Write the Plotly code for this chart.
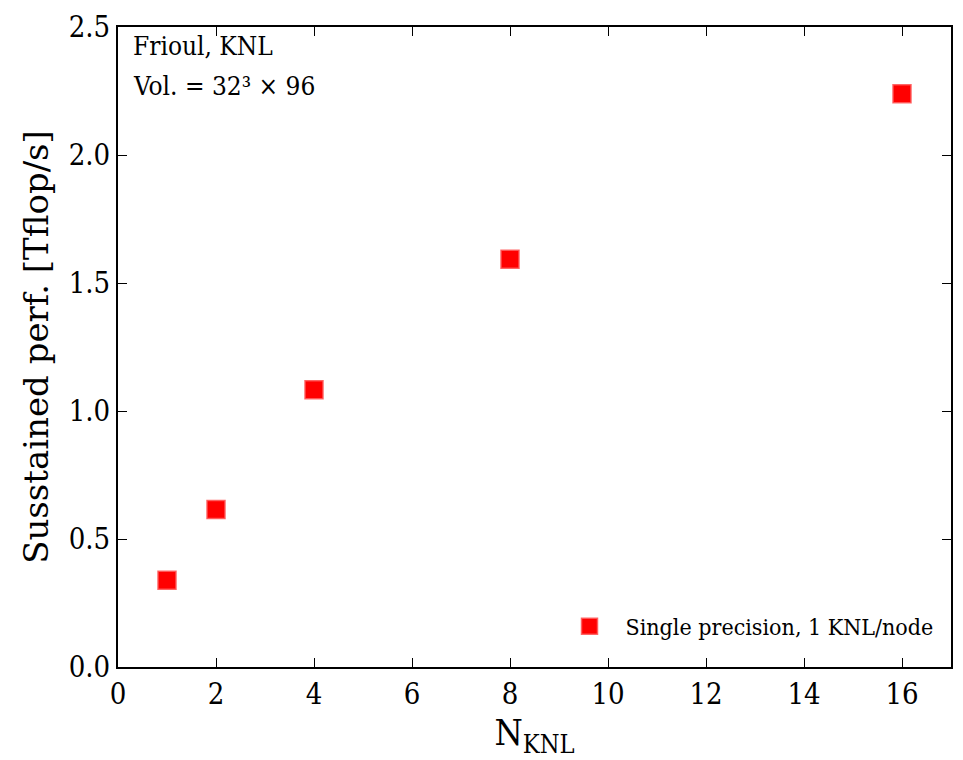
import plotly.graph_objects as go

# Sustained performance vs number of KNL nodes
n_knl = [1, 2, 4, 8, 16]
perf_tflops = [0.339, 0.615, 1.083, 1.593, 2.239]
series_name = "Single precision, 1 KNL/node"

x_ticks = [0, 2, 4, 6, 8, 10, 12, 14, 16]
y_ticks = [0.0, 0.5, 1.0, 1.5, 2.0, 2.5]

FONT = "DejaVu Serif Condensed, Liberation Serif, serif"
FONT_WIDE = "DejaVu Serif, serif"

fig = go.Figure()
fig.add_trace(go.Scatter(
    x=n_knl, y=perf_tflops, mode="markers", name=series_name,
    marker=dict(symbol="square", size=18, color="#ff0000",
                line=dict(color="rgba(255,90,90,0.9)", width=1.5)),
))

axis_common = dict(
    showline=True, linecolor="black", linewidth=2, mirror="ticks",
    ticks="inside", ticklen=9, tickwidth=1.2, tickcolor="black",
    showgrid=False, zeroline=False,
    tickfont=dict(family=FONT, size=29, color="black"),
)

fig.update_layout(
    width=963, height=760,
    margin=dict(l=118, r=10, t=25, b=93),
    paper_bgcolor="white", plot_bgcolor="white",
    font=dict(family=FONT, color="black"),
    xaxis=dict(range=[0, 17], tickvals=x_ticks,
               ticktext=[str(v) for v in x_ticks],
               title=dict(text="N<sub>KNL</sub>", font=dict(family=FONT, size=36), standoff=10),
               **axis_common),
    yaxis=dict(range=[0, 2.5], tickvals=y_ticks,
               ticktext=[f"{v:.1f}" for v in y_ticks],
               title=dict(text="Susstained perf. [Tflop/s]", font=dict(family=FONT_WIDE, size=34), standoff=10),
               **axis_common),
    showlegend=True,
    legend=dict(x=0.985, y=0.03, xanchor="right", yanchor="bottom",
                bgcolor="rgba(0,0,0,0)", borderwidth=0,
                font=dict(family=FONT, size=23, color="black"),
                itemwidth=62),
)

# Run description in the upper-left corner
info_lines = ["Frioul, KNL", "Vol. = 32³ × 96"]
for i, line in enumerate(info_lines):
    fig.add_annotation(
        xref="paper", yref="paper", x=0.016, y=0.997 - i * 0.063,
        xanchor="left", yanchor="top", align="left", showarrow=False,
        text=line, font=dict(family=FONT, size=26, color="black"),
    )

fig.write_html("out.html")
